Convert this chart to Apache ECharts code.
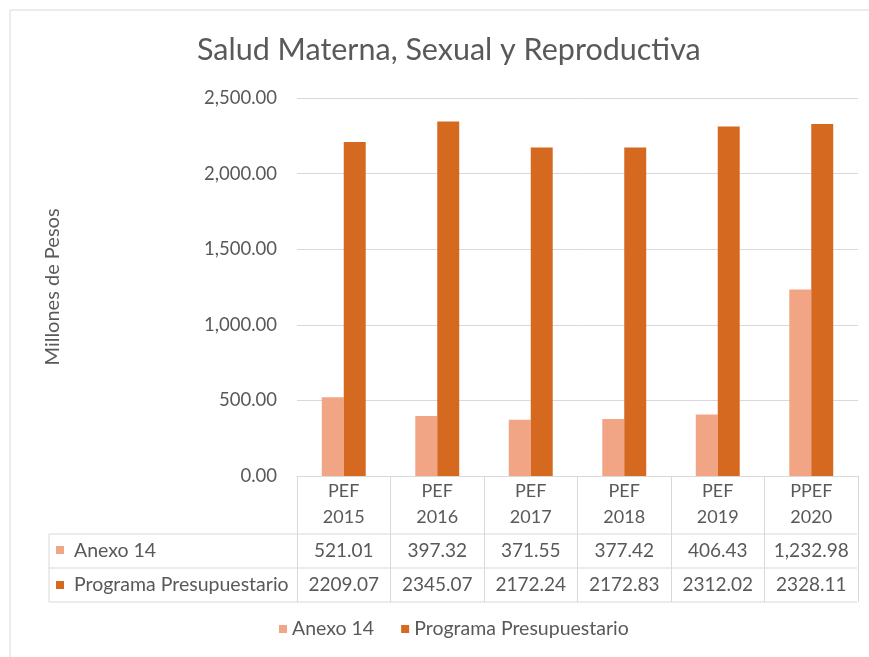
<!DOCTYPE html>
<html>
<head>
<meta charset="utf-8">
<title>Salud Materna, Sexual y Reproductiva</title>
<script src="https://cdn.jsdelivr.net/npm/echarts@6/dist/echarts.min.js"></script>
<style>
html, body { margin: 0; padding: 0; background: #fff; }
#chart { width: 869px; height: 657px; }
</style>
</head>
<body>
<div id="chart"></div>
<script>
var categories = ['PEF\n2015', 'PEF\n2016', 'PEF\n2017', 'PEF\n2018', 'PEF\n2019', 'PPEF\n2020'];
var anexo14 = [521.01, 397.32, 371.55, 377.42, 406.43, 1232.98];
var programa = [2209.07, 2345.07, 2172.24, 2172.83, 2312.02, 2328.11];
var seriesNames = ['Anexo 14', 'Programa Presupuestario'];
var colors = ['#F2A585', '#D5691F'];

var font = 'Lato, sans-serif';
var textColor = '#595959';
var lineColor = '#D9D9D9';

function withCommas(v) {
    return v.toFixed(2).replace(/\B(?=(\d{3})+(?!\d))/g, ',');
}

var chart = echarts.init(document.getElementById('chart'));
chart.setOption({
    color: colors,
    textStyle: { fontFamily: font, color: textColor },
    title: {
        text: 'Salud Materna, Sexual y Reproductiva',
        left: 192,
        top: 30,
        textStyle: { fontFamily: font, fontSize: 30.5, fontWeight: 'normal', color: textColor }
    },
    legend: {
        data: seriesNames,
        bottom: 13,
        left: 274,
        icon: 'rect',
        itemWidth: 8,
        itemHeight: 8,
        itemGap: 27,
        textStyle: { fontFamily: font, fontSize: 19.5, color: textColor }
    },
    grid: { left: 297, right: 11, top: 98, bottom: 181 },
    xAxis: [
        {
            type: 'category',
            data: categories,
            axisLine: { show: true, lineStyle: { color: lineColor } },
            axisTick: { show: true, length: 126, lineStyle: { color: lineColor } },
            axisLabel: { interval: 0, fontFamily: font, fontSize: 18, color: textColor, lineHeight: 26, margin: 2 }
        },
        {
            type: 'category',
            position: 'bottom',
            offset: 60,
            data: anexo14.map(withCommas),
            axisLine: { show: false },
            axisTick: { show: false },
            axisLabel: { interval: 0, hideOverlap: false, fontFamily: font, fontSize: 19, color: textColor, lineHeight: 20, margin: 5 }
        },
        {
            type: 'category',
            position: 'bottom',
            offset: 94,
            data: programa.map(function (v) { return v.toFixed(2); }),
            axisLine: { show: false },
            axisTick: { show: false },
            axisLabel: { interval: 0, hideOverlap: false, fontFamily: font, fontSize: 19, color: textColor, lineHeight: 20, margin: 5 }
        }
    ],
    yAxis: {
        type: 'value',
        min: 0,
        max: 2500,
        interval: 500,
        name: 'Millones de Pesos',
        nameLocation: 'middle',
        nameGap: 234,
        nameTextStyle: { fontFamily: font, fontSize: 20, color: textColor },
        axisLine: { show: false },
        axisTick: { show: false },
        splitLine: { lineStyle: { color: lineColor } },
        axisLabel: {
            fontFamily: font, fontSize: 18.5, color: textColor, margin: 20,
            formatter: function (v) { return withCommas(v); }
        }
    },
    series: [
        { name: seriesNames[0], type: 'bar', data: anexo14, barWidth: '23.5%', barGap: '0%' },
        { name: seriesNames[1], type: 'bar', data: programa, barWidth: '23.5%', barGap: '0%' }
    ],
    graphic: [
        // outer chart frame
        { type: 'rect', shape: { x: 10, y: 10, width: 900, height: 700 }, style: { fill: 'none', stroke: lineColor, lineWidth: 1 } },
        // data table rows
        { type: 'line', shape: { x1: 49, y1: 534, x2: 857, y2: 534 }, style: { stroke: lineColor } },
        { type: 'line', shape: { x1: 49, y1: 568, x2: 857, y2: 568 }, style: { stroke: lineColor } },
        { type: 'line', shape: { x1: 49, y1: 602, x2: 857, y2: 602 }, style: { stroke: lineColor } },
        { type: 'line', shape: { x1: 49, y1: 534, x2: 49, y2: 602 }, style: { stroke: lineColor } },
        { type: 'rect', shape: { x: 56, y: 546, width: 8, height: 8 }, style: { fill: colors[0] } },
        { type: 'text', x: 74, y: 551, style: { text: seriesNames[0], font: '19.5px ' + font, fill: textColor, verticalAlign: 'middle' } },
        { type: 'rect', shape: { x: 56, y: 581, width: 8, height: 8 }, style: { fill: colors[1] } },
        { type: 'text', x: 74, y: 585, style: { text: seriesNames[1], font: '19.5px ' + font, fill: textColor, verticalAlign: 'middle' } }
    ]
});
</script>
</body>
</html>
